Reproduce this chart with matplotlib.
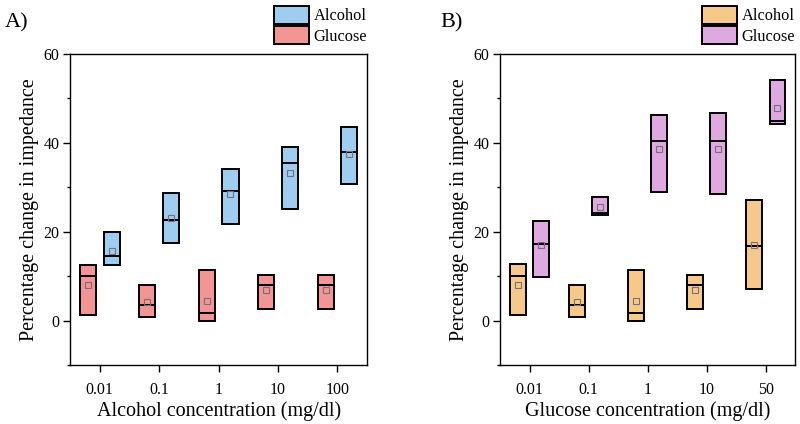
import numpy as np
import matplotlib.pyplot as plt
from matplotlib.patches import Patch
import matplotlib.ticker as mticker

plt.rcParams['font.family'] = ['Liberation Serif', 'DejaVu Serif']

# panel A: alcohol concentrations
alc_ticks = ['0.01', '0.1', '1', '10', '100']
a_glu_top = [12.6, 7.9, 11.3, 10.3, 10.3]
a_glu_bot = [1.2, 0.9, 0.0, 2.5, 2.5]
a_glu_med = [10.1, 3.5, 1.7, 8.0, 8.0]
a_glu_mean = [8.0, 4.2, 4.4, 6.9, 6.9]
a_alc_top = [19.9, 28.7, 34.2, 39.0, 43.6]
a_alc_bot = [12.5, 17.5, 21.7, 25.2, 30.8]
a_alc_med = [14.6, 22.6, 29.2, 35.5, 38.0]
a_alc_mean = [15.6, 23.1, 28.4, 33.2, 37.5]

# panel B: glucose concentrations
glu_ticks = ['0.01', '0.1', '1', '10', '50']
b_alc_top = [12.7, 7.9, 11.3, 10.3, 27.1]
b_alc_bot = [1.2, 0.9, 0.0, 2.5, 7.2]
b_alc_med = [10.1, 3.5, 1.7, 8.0, 16.8]
b_alc_mean = [8.0, 4.2, 4.4, 6.9, 17.1]
b_glu_top = [22.3, 27.8, 46.2, 46.6, 54.2]
b_glu_bot = [9.8, 23.8, 29.0, 28.4, 44.3]
b_glu_med = [17.3, 24.3, 40.3, 40.3, 44.8]
b_glu_mean = [16.9, 25.5, 38.5, 38.5, 47.8]

BLUE = '#9fcdef'
RED = '#f39495'
ORANGE = '#f6c98b'
VIOLET = '#dea8e0'
W = 0.27
OFF = 0.2


def draw_boxes(ax, x, top, bot, med, mean, color):
    top = np.array(top)
    bot = np.array(bot)
    ax.bar(x, top - bot, bottom=bot, width=W, color=color,
           edgecolor='black', linewidth=1.4, zorder=2)
    ax.hlines(med, x - W / 2, x + W / 2, color='black', linewidth=1.4, zorder=3)
    ax.plot(x, mean, 's', ms=4, mfc='none', mec='#77707a', mew=0.8, zorder=4)


def style_axes(ax, ticks, xlabel, label, label_x, legend_items):
    ax.set_xlim(0.5, 5.5)
    ax.set_ylim(-10, 60)
    ax.set_xticks(np.arange(1, 6))
    ax.set_xticklabels(ticks)
    ax.yaxis.set_major_locator(mticker.MultipleLocator(20))
    ax.yaxis.set_minor_locator(mticker.MultipleLocator(10))
    ax.tick_params(axis='both', which='major', direction='out', length=5,
                   width=1.0, labelsize=11.5)
    ax.tick_params(axis='x', pad=7.5)
    ax.tick_params(axis='y', pad=2.5)
    ax.tick_params(axis='y', which='minor', direction='out', length=2.5, width=1.0)
    for s in ax.spines.values():
        s.set_linewidth(1.0)
    ax.set_xlabel(xlabel, fontsize=14.5, labelpad=2)
    ax.set_ylabel('Percentage change in impedance', fontsize=14.5, labelpad=3)
    handles = [Patch(facecolor=c, edgecolor='black', linewidth=1.4, label=l)
               for l, c in legend_items]
    ax.legend(handles=handles, loc='lower right', bbox_to_anchor=(1.0, 1.03),
              frameon=False, fontsize=11.8, handlelength=2.1, handleheight=1.25,
              handletextpad=0.3, labelspacing=0.12, borderpad=0.0, borderaxespad=0.0)
    ax.text(label_x, 1.10, label, transform=ax.transAxes, fontsize=16,
            ha='left', va='center')


fig = plt.figure(figsize=(8, 4.24), dpi=100)
ax1 = fig.add_axes([0.0875, 0.139, 0.3715, 0.734])
ax2 = fig.add_axes([0.625, 0.139, 0.369, 0.734])

x = np.arange(1, 6)
draw_boxes(ax1, x - OFF, a_glu_top, a_glu_bot, a_glu_med, a_glu_mean, RED)
draw_boxes(ax1, x + OFF, a_alc_top, a_alc_bot, a_alc_med, a_alc_mean, BLUE)
style_axes(ax1, alc_ticks, 'Alcohol concentration (mg/dl)', 'A)', -0.219,
           [('Alcohol', BLUE), ('Glucose', RED)])

draw_boxes(ax2, x - OFF, b_alc_top, b_alc_bot, b_alc_med, b_alc_mean, ORANGE)
draw_boxes(ax2, x + OFF, b_glu_top, b_glu_bot, b_glu_med, b_glu_mean, VIOLET)
style_axes(ax2, glu_ticks, 'Glucose concentration (mg/dl)', 'B)', -0.203,
           [('Alcohol', ORANGE), ('Glucose', VIOLET)])

fig.savefig('out.png', dpi=100)
